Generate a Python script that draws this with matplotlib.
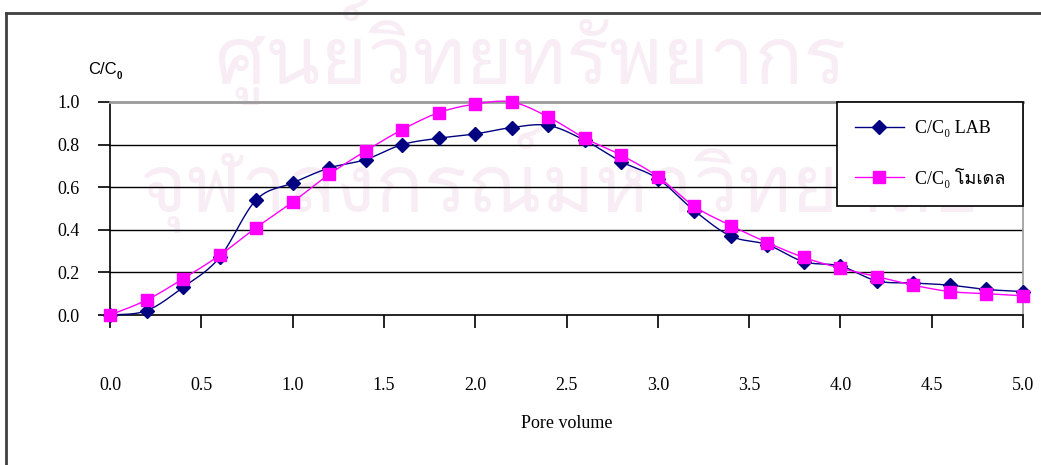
import numpy as np
import matplotlib
matplotlib.use("Agg")
import matplotlib.pyplot as plt
from matplotlib import font_manager
from matplotlib.ft2font import FT2Font
from matplotlib.lines import Line2D

# ---- data -------------------------------------------------------------
pore_volume = [0.0, 0.2, 0.4, 0.6, 0.8, 1.0, 1.2, 1.4, 1.6, 1.8, 2.0, 2.2, 2.4,
               2.6, 2.8, 3.0, 3.2, 3.4, 3.6, 3.8, 4.0, 4.2, 4.4, 4.6, 4.8, 5.0]
cc0_lab = [0.00, 0.02, 0.13, 0.27, 0.54, 0.62, 0.69, 0.73, 0.80, 0.83, 0.85, 0.88, 0.89,
           0.82, 0.72, 0.64, 0.49, 0.37, 0.33, 0.25, 0.23, 0.16, 0.15, 0.14, 0.12, 0.11]
cc0_model = [0.00, 0.07, 0.17, 0.28, 0.41, 0.53, 0.66, 0.77, 0.87, 0.95, 0.99, 1.00, 0.93,
             0.83, 0.75, 0.65, 0.51, 0.42, 0.34, 0.27, 0.22, 0.18, 0.14, 0.11, 0.10, 0.09]
x_ticks = [0.0, 0.5, 1.0, 1.5, 2.0, 2.5, 3.0, 3.5, 4.0, 4.5, 5.0]
y_ticks = [0.0, 0.2, 0.4, 0.6, 0.8, 1.0]
series_labels = ["C/C\u2080 LAB", "C/C\u2080 โมเดล"]
watermark_lines = ["ศูนย์วิทยทรัพยากร", "จุฬาลงกรณ์มหาวิทยาลัย"]


def find_family(ch):
    """Return the name of an installed font family that has glyph `ch`."""
    checked = set()
    for entry in font_manager.fontManager.ttflist:
        if entry.fname in checked:
            continue
        checked.add(entry.fname)
        try:
            if ord(ch) in FT2Font(entry.fname).get_charmap():
                return entry.name
        except Exception:
            pass
    return None


thai = find_family("\u0e42")
serif_fam = ["Liberation Serif"] + ([thai] if thai else []) + ["DejaVu Sans"]
thai_fam = ([thai] if thai else []) + ["DejaVu Sans"]


def smooth(x, y, steps=16):
    """Catmull-Rom curve through the points, like a smoothed spreadsheet line."""
    x = np.asarray(x, float)
    y = np.asarray(y, float)
    n = len(x)
    xs, ys = [], []
    for i in range(n - 1):
        i0, i3 = max(i - 1, 0), min(i + 2, n - 1)
        t = np.linspace(0, 1, steps, endpoint=False)
        for arr, out in ((x, xs), (y, ys)):
            p0, p1, p2, p3 = arr[i0], arr[i], arr[i + 1], arr[i3]
            out.extend(0.5 * ((2 * p1) + (-p0 + p2) * t
                              + (2 * p0 - 5 * p1 + 4 * p2 - p3) * t ** 2
                              + (-p0 + 3 * p1 - 3 * p2 + p3) * t ** 3))
    xs.append(x[-1])
    ys.append(y[-1])
    return np.array(xs), np.array(ys)


W, H = 1041, 465
fig = plt.figure(figsize=(W / 100, H / 100), dpi=100)
fig.patch.set_facecolor("white")

# faint background watermark
wm_color = "#f8edf5"
fig.text(530 / W, 1 - 52 / H, watermark_lines[0], family=thai_fam, fontsize=58,
         color=wm_color, ha="center", va="center", zorder=-5)
fig.text(560 / W, 1 - 180 / H, watermark_lines[1], family=thai_fam, fontsize=58,
         color=wm_color, ha="center", va="center", zorder=-5)

# outer chart frame (top and left edges)
fig.add_artist(Line2D([6 / W, 1.0], [1 - 13 / H, 1 - 13 / H], color="#404040", lw=2,
                      transform=fig.transFigure))
fig.add_artist(Line2D([6 / W, 6 / W], [1 - 13 / H, 0], color="#404040", lw=2,
                      transform=fig.transFigure))

ax = fig.add_axes([110 / W, 1 - 315 / H, 913 / W, 213 / H])
ax.patch.set_alpha(0)
ax.set_xlim(0, 5)
ax.set_ylim(0, 1.0)

for y in y_ticks[1:-1]:
    ax.axhline(y, color="black", lw=1.0, zorder=1)

lx, ly = smooth(pore_volume, cc0_lab)
mx, my = smooth(pore_volume, cc0_model)
ax.plot(lx, ly, color="#000080", lw=1.0, zorder=3, clip_on=False)
ax.plot(mx, my, color="#ff00ff", lw=1.0, zorder=4, clip_on=False)
ax.plot(pore_volume, cc0_lab, ls="none", marker="D", ms=7, color="#000080",
        zorder=3, clip_on=False)
ax.plot(pore_volume, cc0_model, ls="none", marker="s", ms=8, color="#ff00ff",
        zorder=4, clip_on=False)

h_lab = Line2D([], [], color="#000080", lw=1.0, marker="D", ms=7)
h_mod = Line2D([], [], color="#ff00ff", lw=1.0, marker="s", ms=8)
leg = ax.legend([h_lab, h_mod], series_labels, loc="upper right",
                bbox_to_anchor=(1.0, 1.0), borderaxespad=0, frameon=True,
                fancybox=False, edgecolor="black", framealpha=1,
                prop={"family": serif_fam, "size": 13}, handlelength=2.7,
                handletextpad=0.6, labelspacing=1.7, borderpad=1.0)
leg.get_frame().set_linewidth(1.2)
leg.set_zorder(10)

ax.spines["left"].set_color("black")
ax.spines["bottom"].set_color("black")
ax.spines["top"].set_color("#9a9a9a")
ax.spines["right"].set_color("#9a9a9a")
for s in ax.spines.values():
    s.set_linewidth(1.2)
ax.spines["top"].set_linewidth(2.0)

ax.set_xticks(x_ticks)
ax.set_xticklabels([f"{v:.1f}" for v in x_ticks], family="Liberation Serif",
                   fontsize=13)
ax.set_yticks(y_ticks)
ax.set_yticklabels([f"{v:.1f}" for v in y_ticks], family="Liberation Serif",
                   fontsize=13)
ax.tick_params(axis="y", direction="out", length=9, width=1.2, pad=13)
ax.tick_params(axis="x", direction="out", length=9, width=1.2, pad=36)

ax.set_xlabel("Pore volume", family="Liberation Serif", fontsize=13, labelpad=15)

fig.text(88 / W, 1 - 70 / H, "C/C", family="Liberation Sans", fontsize=12,
         ha="left", va="center")
fig.text(117 / W, 1 - 76 / H, "0", family="Liberation Sans", fontsize=7,
         fontweight="bold", ha="left", va="center")

fig.savefig("out.png", dpi=100)
